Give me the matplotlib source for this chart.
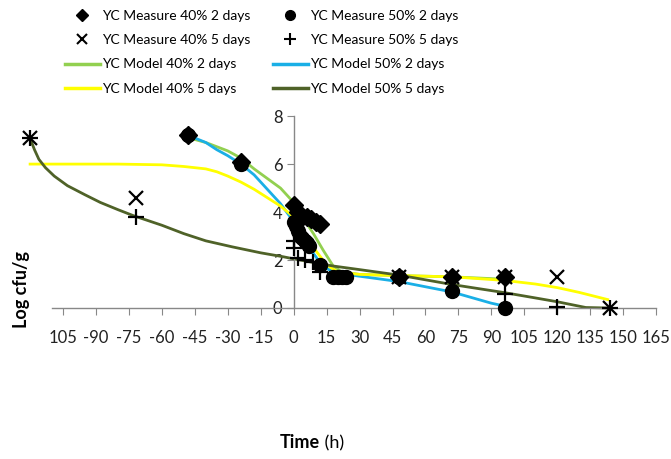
import numpy as np
import matplotlib
matplotlib.use('Agg')
import matplotlib.pyplot as plt
from matplotlib.lines import Line2D

plt.rcParams['font.family'] = ['Lato', 'DejaVu Sans']

# measured points
t40_2_meas = [-48, -24, 0, 2, 4, 6, 8, 10, 12, 48, 72, 96]
y40_2_meas = [7.2, 6.1, 4.3, 4.0, 3.8, 3.8, 3.7, 3.6, 3.5, 1.3, 1.3, 1.3]

t50_2_meas = [-48, -24, 0, 1, 2, 3, 4, 5, 6, 7, 12, 18, 20, 22, 24, 48, 72, 96]
y50_2_meas = [7.2, 6.0, 3.6, 3.4, 3.2, 3.0, 2.9, 2.8, 2.7, 2.6, 1.8, 1.3, 1.3, 1.3, 1.3, 1.3, 0.7, 0.0]

t40_5_meas = [-120, -72, 48, 72, 96, 120, 144]
y40_5_meas = [7.1, 4.6, 1.3, 1.3, 1.3, 1.3, 0.0]

t50_5_meas = [-120, -72, 0, 0, 2, 5, 9, 12, 96, 120, 144]
y50_5_meas = [7.1, 3.8, 2.8, 2.5, 2.1, 2.0, 1.9, 1.5, 0.6, 0.05, 0.0]

# model curves
t40_2_mod = [-48, -40, -30, -24, -18, -12, -6, 0, 4, 9, 13.5, 18, 22, 30, 48, 72, 96]
y40_2_mod = [7.1, 6.9, 6.55, 6.25, 5.8, 5.4, 5.0, 4.4, 3.8, 3.1, 2.4, 1.75, 1.5, 1.4, 1.35, 1.3, 1.2]

t50_2_mod = [-48, -40, -35, -30, -24, -18, -12, -6, 0, 4, 8, 12, 16, 20, 24, 48, 72, 90, 96]
y50_2_mod = [7.2, 6.9, 6.6, 6.35, 6.0, 5.55, 4.95, 4.35, 3.6, 3.0, 2.4, 1.9, 1.6, 1.5, 1.4, 1.1, 0.67, 0.2, 0.08]

t40_5_mod = [-120, -100, -80, -60, -50, -40, -35, -30, -24, -18, -12, -6, 0, 5, 10, 15, 20, 30, 48, 72, 96, 110, 120, 130, 143]
y40_5_mod = [6.0, 6.0, 6.0, 5.97, 5.9, 5.8, 5.68, 5.5, 5.25, 4.95, 4.6, 4.25, 3.8, 3.1, 2.4, 1.8, 1.5, 1.4, 1.35, 1.3, 1.15, 1.0, 0.85, 0.65, 0.35]

t50_5_mod = [-120, -118, -116, -113, -109, -103, -95, -88, -80, -73, -60, -50, -40, -28, -15, -5, 0, 10, 18, 30, 48, 72, 96, 110, 120, 133, 143]
y50_5_mod = [7.07, 6.6, 6.2, 5.85, 5.5, 5.1, 4.72, 4.4, 4.1, 3.85, 3.45, 3.1, 2.8, 2.55, 2.3, 2.14, 2.05, 1.88, 1.75, 1.6, 1.37, 0.98, 0.64, 0.42, 0.26, 0.02, 0.0]

xticks = list(range(-105, 166, 15))
xticklabels = ['105'] + [str(v) for v in xticks[1:]]
yticks = [0, 2, 4, 6, 8]

c_green = '#92D050'
c_blue = '#1AAFE6'
c_yellow = '#FFFF00'
c_olive = '#4F6228'
lw = 2.0

fig = plt.figure(figsize=(6.71, 4.59), dpi=100)
ax = fig.add_axes([0.0383, 0.329, 0.946, 0.418])

ax.plot(t40_2_mod, y40_2_mod, color=c_green, lw=lw, clip_on=False, zorder=2)
ax.plot(t50_2_mod, y50_2_mod, color=c_blue, lw=lw, clip_on=False, zorder=2)
ax.plot(t40_5_mod, y40_5_mod, color=c_yellow, lw=lw, clip_on=False, zorder=2)
ax.plot(t50_5_mod, y50_5_mod, color=c_olive, lw=lw, clip_on=False, zorder=2)

ax.plot(t40_2_meas, y40_2_meas, 'D', color='black', ms=9, ls='none', clip_on=False, zorder=3)
ax.plot(t50_2_meas, y50_2_meas, 'o', color='black', ms=10, ls='none', clip_on=False, zorder=3)
ax.plot(t40_5_meas, y40_5_meas, 'x', color='black', ms=10, mew=1.6, ls='none', clip_on=False, zorder=3)
ax.plot(t50_5_meas, y50_5_meas, '+', color='black', ms=11, mew=1.6, ls='none', clip_on=False, zorder=3)

ax.set_xlim(-122, 167)
ax.set_ylim(0, 8)
for s in ['top', 'right']:
    ax.spines[s].set_visible(False)
ax.spines['left'].set_position(('data', 0))
ax.spines['left'].set_bounds(0, 8)
ax.spines['bottom'].set_bounds(-110, 165)
for s in ['left', 'bottom']:
    ax.spines[s].set_color('#888888')
    ax.spines[s].set_linewidth(1.0)

ax.set_xticks(xticks)
ax.set_xticklabels(xticklabels, fontsize=12, color='#222222')
ax.set_yticks(yticks)
ax.set_yticklabels([str(v) for v in yticks], fontsize=12, color='#222222')
ax.tick_params(axis='x', direction='out', length=5, color='#888888', pad=11)
ax.tick_params(axis='y', direction='out', length=5, color='#888888', pad=3)

# legend, two columns
h1 = [Line2D([], [], marker='D', color='black', ls='none', ms=6),
      Line2D([], [], marker='x', color='black', ls='none', ms=7, mew=1.5),
      Line2D([], [], color=c_green, lw=2.5),
      Line2D([], [], color=c_yellow, lw=2.5)]
l1 = ['YC Measure 40% 2 days', 'YC Measure 40% 5 days', 'YC Model 40% 2 days', 'YC Model 40% 5 days']
h2 = [Line2D([], [], marker='o', color='black', ls='none', ms=7),
      Line2D([], [], marker='+', color='black', ls='none', ms=8, mew=1.5),
      Line2D([], [], color=c_blue, lw=2.5),
      Line2D([], [], color=c_olive, lw=2.5)]
l2 = ['YC Measure 50% 2 days', 'YC Measure 50% 5 days', 'YC Model 50% 2 days', 'YC Model 50% 5 days']

leg_kw = dict(frameon=False, handlelength=2.5, handletextpad=0.15,
              labelspacing=0.88, borderpad=0, borderaxespad=0,
              prop={'size': 10})
leg1 = fig.legend(h1, l1, loc='upper left', bbox_to_anchor=(65 / 671, 1 - 10 / 459), **leg_kw)
leg2 = fig.legend(h2, l2, loc='upper left', bbox_to_anchor=(273 / 671, 1 - 10 / 459), **leg_kw)

fig.text(22 / 671, 1 - 290 / 459, 'Log cfu/g', rotation=90, fontsize=13, fontweight='bold',
         ha='center', va='center')
fig.text(320 / 671, 0.035, 'Time', fontsize=13, fontweight='bold', ha='right', va='center')
fig.text(320 / 671, 0.035, ' (h)', fontsize=13, ha='left', va='center')

fig.savefig('out.png', dpi=100)
